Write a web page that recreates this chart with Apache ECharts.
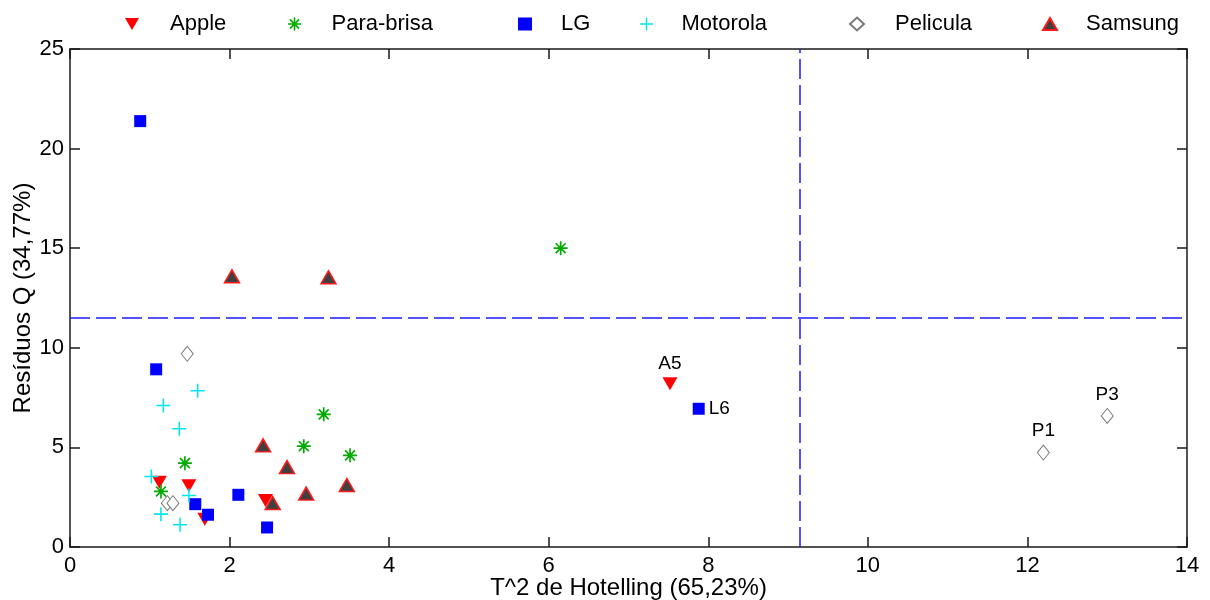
<!DOCTYPE html>
<html>
<head>
<meta charset="utf-8">
<script src="https://cdn.jsdelivr.net/npm/echarts@6/dist/echarts.min.js"></script>
<style>
  html, body { margin: 0; padding: 0; background: #fff; }
  #chart { width: 1210px; height: 600px; }
</style>
</head>
<body>
<div id="chart"></div>
<script>
// Hotelling T^2 vs. Q residuals, grouped by sample class
const appleX = [1.12, 1.49, 1.69, 2.45, 7.52];
const appleY = [3.25, 3.07, 1.39, 2.34, 8.20];
const appleTag = ['', '', '', '', 'A5'];

const paraX = [6.15, 3.18, 2.93, 3.51, 1.44, 1.14];
const paraY = [15.00, 6.66, 5.06, 4.60, 4.21, 2.79];

const lgX = [0.88, 1.08, 1.57, 1.73, 2.11, 2.47, 7.88];
const lgY = [21.38, 8.92, 2.15, 1.62, 2.62, 0.98, 6.94];
const lgTag = ['', '', '', '', '', '', 'L6'];

const motoX = [1.60, 1.17, 1.37, 1.02, 1.49, 1.14, 1.38];
const motoY = [7.84, 7.10, 5.94, 3.54, 2.59, 1.65, 1.12];

const pelX = [1.47, 1.22, 1.29, 12.20, 13.00];
const pelY = [9.70, 2.20, 2.20, 4.74, 6.58];
const pelTag = ['', '', '', 'P1', 'P3'];

const samX = [2.03, 3.24, 2.42, 2.72, 2.54, 2.96, 3.47];
const samY = [13.59, 13.54, 5.10, 4.01, 2.21, 2.68, 3.11];

// confidence limits
const limitT2 = 9.15;
const limitQ = 11.49;

const xTicks = { min: 0, max: 14, interval: 2 };
const yTicks = { min: 0, max: 25, interval: 5 };

const FONT = 'Liberation Sans, Arial, sans-serif';

// marker shapes
const SYM_DOWN = 'path://M0,0 L20,0 L10,17.3 Z';
const SYM_UP = 'path://M10,0 L20,17.3 L0,17.3 Z';
const SYM_STAR = 'path://M8.8,0 H11.2 V20 H8.8 Z M0,8.8 H20 V11.2 H0 Z ' +
  'M3.78,2.08 L17.92,16.22 L16.22,17.92 L2.08,3.78 Z ' +
  'M16.22,2.08 L17.92,3.78 L3.78,17.92 L2.08,16.22 Z';
const SYM_PLUS = 'path://M8.9,0 H11.1 V8.9 H20 V11.1 H11.1 V20 H8.9 V11.1 H0 V8.9 H8.9 Z';

function pts(xs, ys, tags) {
  return xs.map((x, i) => {
    const tag = tags ? tags[i] : '';
    return { value: [x, ys[i]], name: tag, label: { show: !!tag } };
  });
}

const pointLabel = (pos) => ({
  position: pos,
  distance: 4,
  formatter: '{b}',
  color: '#000',
  fontFamily: FONT,
  fontSize: 19
});

const series = [
  {
    name: 'Apple', type: 'scatter', symbol: SYM_DOWN, symbolSize: [15, 13],
    itemStyle: { color: '#ff0000', opacity: 1 },
    label: pointLabel('top'),
    data: pts(appleX, appleY, appleTag)
  },
  {
    name: 'Para-brisa', type: 'scatter', symbol: SYM_STAR, symbolSize: 14,
    itemStyle: { color: '#00aa00', opacity: 1 },
    data: pts(paraX, paraY)
  },
  {
    name: 'LG', type: 'scatter', symbol: 'rect', symbolSize: 12,
    itemStyle: { color: '#0000ff', opacity: 1 },
    label: pointLabel('right'),
    data: pts(lgX, lgY, lgTag)
  },
  {
    name: 'Motorola', type: 'scatter', symbol: SYM_PLUS, symbolSize: 14,
    itemStyle: { color: '#00e5ee', opacity: 1 },
    data: pts(motoX, motoY)
  },
  {
    name: 'Pelicula', type: 'scatter', symbol: 'diamond', symbolSize: [12, 15],
    itemStyle: { color: '#ffffff', borderColor: '#7a7a7a', borderWidth: 1, opacity: 1 },
    label: pointLabel('top'),
    data: pts(pelX, pelY, pelTag)
  },
  {
    name: 'Samsung', type: 'scatter', symbol: SYM_UP, symbolSize: [15, 13],
    itemStyle: { color: '#404040', borderColor: '#ff1a1a', borderWidth: 1.5, opacity: 1 },
    data: pts(samX, samY)
  },
  {
    name: 'limits', type: 'scatter', data: [], silent: true,
    markLine: {
      silent: true, animation: false, symbol: ['none', 'none'],
      label: { show: false },
      lineStyle: { color: '#1a1aff', width: 1.5, type: [20, 6] },
      emphasis: { disabled: true },
      data: [{ xAxis: limitT2 }, { yAxis: limitQ }]
    }
  }
];

// one legend block per class, laid out across the top
const legendPos = [
  ['Apple', 127, 165],
  ['Para-brisa', 290, 327],
  ['LG', 520, 556],
  ['Motorola', 642, 677],
  ['Pelicula', 851, 889],
  ['Samsung', 1044, 1080]
];
const ICON_W = 14;
const legends = legendPos.map(([name, iconX, textX]) => ({
  data: [name],
  left: iconX - ICON_W / 2,
  top: 8,
  itemWidth: ICON_W,
  itemHeight: 13,
  selectedMode: false,
  textStyle: {
    fontFamily: FONT, fontSize: 22, color: '#000',
    padding: [0, 0, 0, textX - iconX - ICON_W / 2 - 5]
  }
}));

const axisLineStyle = { color: '#1a1a1a', width: 1.5 };
const tickStyle = { show: true, inside: true, length: 10, lineStyle: axisLineStyle };
const titleStyle = { fontFamily: FONT, fontSize: 24, color: '#000' };

const option = {
  animation: false,
  backgroundColor: '#ffffff',
  legend: legends,
  grid: { left: 70, right: 23, top: 49, bottom: 53, containLabel: false, outerBoundsMode: 'none' },
  xAxis: [
    {
      type: 'value', position: 'bottom', ...xTicks,
      name: 'T^2 de Hotelling (65,23%)', nameLocation: 'middle', nameGap: 29,
      nameMoveOverlap: false,
      nameTextStyle: titleStyle,
      axisLine: { show: true, onZero: false, lineStyle: axisLineStyle },
      axisTick: tickStyle,
      axisLabel: { fontFamily: FONT, fontSize: 22, color: '#000', margin: 8 },
      splitLine: { show: false }
    },
    {
      type: 'value', position: 'top', ...xTicks,
      axisLine: { show: true, onZero: false, lineStyle: axisLineStyle },
      axisTick: tickStyle,
      axisLabel: { show: false },
      splitLine: { show: false }
    }
  ],
  yAxis: [
    {
      type: 'value', position: 'left', ...yTicks,
      name: 'Resíduos Q (34,77%)', nameLocation: 'middle', nameGap: 35,
      nameMoveOverlap: false,
      nameTextStyle: titleStyle,
      axisLine: { show: true, onZero: false, lineStyle: axisLineStyle },
      axisTick: tickStyle,
      axisLabel: { fontFamily: FONT, fontSize: 22, color: '#000', margin: 6 },
      splitLine: { show: false }
    },
    {
      type: 'value', position: 'right', ...yTicks,
      axisLine: { show: true, onZero: false, lineStyle: axisLineStyle },
      axisTick: tickStyle,
      axisLabel: { show: false },
      splitLine: { show: false }
    }
  ],
  series: series
};

const chart = echarts.init(document.getElementById('chart'), null, { renderer: 'canvas' });
chart.setOption(option);
</script>
</body>
</html>
